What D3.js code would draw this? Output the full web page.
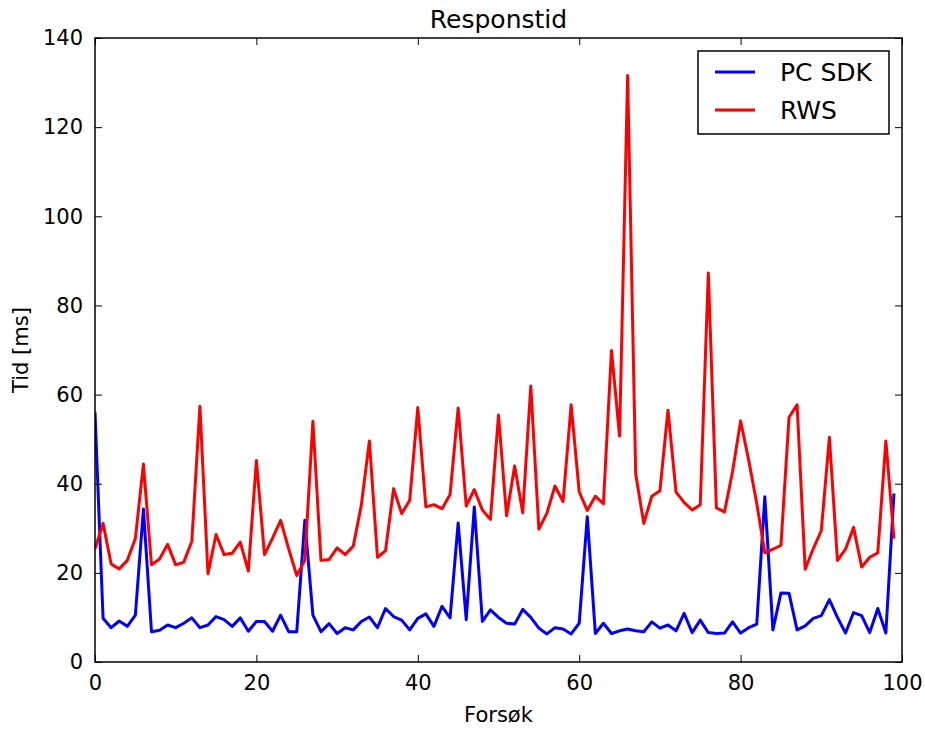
<!DOCTYPE html>
<meta charset="utf-8">
<title>Responstid</title>
<script src="https://d3js.org/d3.v7.min.js"></script>
<style>
  body { margin: 0; background: #fff; }
  text { font-family: "DejaVu Sans", sans-serif; }
</style>
<body>
<div id="chart"></div>
<script>
// data
var seriesNames = ["PC SDK", "RWS"];
var seriesColors = ["#0000ff", "#ff0000"];

var pcSdk = [56, 9.8, 7.7, 9.2, 8.0, 10.5, 34.3, 6.8, 7.1, 8.3,
             7.7, 8.7, 9.9, 7.7, 8.3, 10.2, 9.5, 8.0, 9.9, 6.9,
             9.1, 9.1, 6.9, 10.5, 6.8, 6.8, 31.8, 10.5, 6.8, 8.6,
             6.4, 7.7, 7.2, 9.1, 10.1, 7.7, 12.0, 10.2, 9.4, 7.2,
             9.8, 10.8, 8.0, 12.5, 9.9, 31.2, 9.5, 34.8, 9.1, 11.7,
             10.0, 8.7, 8.5, 11.8, 10.0, 7.6, 6.3, 7.7, 7.4, 6.3,
             8.7, 32.6, 6.4, 8.7, 6.4, 7.0, 7.4, 7.0, 6.8, 9.0,
             7.6, 8.3, 7.0, 10.9, 6.6, 9.4, 6.6, 6.4, 6.5, 9.0,
             6.5, 7.7, 8.5, 37.1, 7.2, 15.5, 15.4, 7.2, 8.1, 9.8,
             10.4, 14.0, 10.0, 6.5, 11.1, 10.4, 6.6, 12.0, 6.5, 37.8];

var rws = [25.4, 31.1, 22.0, 20.9, 22.8, 27.7, 44.4, 21.8, 23.1, 26.4,
           21.8, 22.4, 27.1, 57.4, 19.8, 28.6, 24.1, 24.4, 26.9, 20.4,
           45.2, 24.1, 27.8, 31.8, 25.4, 19.4, 22.8, 54.0, 22.8, 23.0,
           25.6, 24.1, 26.0, 35.2, 49.6, 23.5, 25.0, 38.9, 33.3, 36.3,
           57.1, 34.8, 35.3, 34.4, 37.6, 57.0, 35.0, 38.7, 34.1, 32.0,
           55.4, 32.8, 44.0, 33.5, 61.9, 29.8, 33.4, 39.5, 36.0, 57.7,
           38.2, 34.0, 37.2, 35.5, 69.9, 50.7, 131.6, 42.2, 31.1, 37.2,
           38.4, 56.5, 38.1, 35.8, 34.1, 35.3, 87.3, 34.6, 33.7, 42.7,
           54.1, 45.3, 35.6, 24.5, 25.3, 26.2, 54.9, 57.7, 20.8, 25.4,
           29.5, 50.4, 22.8, 25.3, 30.2, 21.3, 23.5, 24.5, 49.6, 27.7];

var xTicks = [0, 20, 40, 60, 80, 100];
var yTicks = [0, 20, 40, 60, 80, 100, 120, 140];

var margin = {top: 38, right: 23, bottom: 67, left: 95},
    width = 925 - margin.left - margin.right,
    height = 729 - margin.top - margin.bottom;

var svg = d3.select("#chart")
  .append("svg")
    .attr("width", 925)
    .attr("height", 729);

var g = svg.append("g")
    .attr("transform", "translate(" + margin.left + "," + margin.top + ")");

var x = d3.scaleLinear().domain([0, 100]).range([0, width]);
var y = d3.scaleLinear().domain([0, 140]).range([height, 0]);

// clip lines to the plot area
g.append("clipPath").attr("id", "clip")
  .append("rect").attr("width", width).attr("height", height);

var line = d3.line()
  .x(function(d, i) { return x(i); })
  .y(function(d) { return y(d); });

var allSeries = [pcSdk, rws];
allSeries.forEach(function(s, k) {
  g.append("path")
    .datum(s)
    .attr("clip-path", "url(#clip)")
    .attr("fill", "none")
    .attr("stroke", seriesColors[k])
    .attr("stroke-width", 3)
    .attr("stroke-linejoin", "round")
    .attr("d", line);
});

// axes, ticks pointing inward on all four sides
function styleAxis(sel) {
  sel.select(".domain").remove();
  sel.selectAll("line").attr("stroke", "#000").attr("stroke-width", 1);
  sel.selectAll("text").attr("fill", "#000").style("font-size", "21px");
}

g.append("g")
  .attr("transform", "translate(0," + height + ")")
  .call(d3.axisBottom(x).tickValues(xTicks).tickSizeInner(-7).tickPadding(13))
  .call(styleAxis);

g.append("g")
  .call(d3.axisTop(x).tickValues(xTicks).tickSizeInner(-7).tickFormat(""))
  .call(styleAxis);

g.append("g")
  .call(d3.axisLeft(y).tickValues(yTicks).tickSizeInner(-7).tickPadding(12))
  .call(styleAxis);

g.append("g")
  .attr("transform", "translate(" + width + ",0)")
  .call(d3.axisRight(y).tickValues(yTicks).tickSizeInner(-7).tickFormat(""))
  .call(styleAxis);

g.append("rect")
  .attr("width", width)
  .attr("height", height)
  .attr("fill", "none")
  .attr("stroke", "#000")
  .attr("stroke-width", 1.5);

// labels
svg.append("text")
  .attr("x", margin.left + width / 2)
  .attr("y", 28)
  .attr("text-anchor", "middle")
  .style("font-size", "25px")
  .text("Responstid");

svg.append("text")
  .attr("x", margin.left + width / 2)
  .attr("y", 722)
  .attr("text-anchor", "middle")
  .style("font-size", "21px")
  .text("Forsøk");

svg.append("text")
  .attr("transform", "translate(28," + (margin.top + height / 2) + ") rotate(-90)")
  .attr("text-anchor", "middle")
  .style("font-size", "21px")
  .text("Tid [ms]");

// legend
var legend = svg.append("g").attr("transform", "translate(698,51)");
legend.append("rect")
  .attr("width", 191)
  .attr("height", 83)
  .attr("fill", "#fff")
  .attr("stroke", "#000")
  .attr("stroke-width", 1.5);

seriesNames.forEach(function(name, k) {
  var ly = 21 + k * 38;
  legend.append("line")
    .attr("x1", 17).attr("x2", 57)
    .attr("y1", ly).attr("y2", ly)
    .attr("stroke", seriesColors[k])
    .attr("stroke-width", 3);
  legend.append("text")
    .attr("x", 82)
    .attr("y", ly + 9)
    .style("font-size", "25px")
    .text(name);
});
</script>
</body>
</html>
